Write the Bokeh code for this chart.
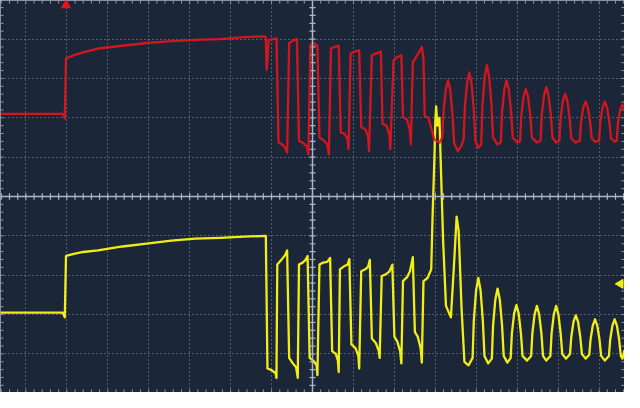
import numpy as np
from bokeh.plotting import figure
from bokeh.models import FixedTicker, Span
from bokeh.embed import file_html
from bokeh.resources import INLINE

# ---- data (screen divisions: time in div, voltage in div) ----
T_MIN, T_MAX = -7.62, 7.62
V_MIN, V_MAX = -4.98, 4.98

red_trigger_t = -6.02
yel_trigger_v = -2.22

# channel 1 (red): baseline, step, settle
red_step_t = [-7.62, -6.10, -6.05, -6.02, -5.83, -5.60, -5.24, -4.64, -4.05, -3.45,
              -2.86, -2.26, -1.67, -1.19, -1.14, -1.12, -1.10, -1.07, -0.95, -0.88]
red_step_v = [2.10, 2.10, 1.98, 3.51, 3.59, 3.66, 3.76, 3.83, 3.90, 3.95,
              3.98, 4.00, 4.05, 4.07, 4.05, 3.22, 3.51, 3.98, 4.00, 4.02]
# square burst
red_burst_t = [-0.83, -0.74, -0.67, -0.62, -0.57, -0.48, -0.38,
               -0.33, -0.24, -0.14, -0.10, -0.05, 0.02, 0.12,
               0.17, 0.26, 0.36, 0.40, 0.45, 0.55, 0.64,
               0.69, 0.79, 0.86, 0.88, 0.93, 1.02, 1.14,
               1.19, 1.29, 1.36, 1.38, 1.45, 1.55, 1.67,
               1.71, 1.81, 1.88, 1.90, 1.98, 2.07, 2.17,
               2.21, 2.31, 2.38, 2.40, 2.45, 2.57, 2.67, 2.71,
               2.74, 2.83, 2.98, 3.10]
red_burst_v = [1.37, 1.32, 1.24, 1.12, 3.90, 3.95, 4.00,
               1.41, 1.37, 1.27, 1.07, 3.85, 3.90, 3.83,
               1.49, 1.44, 1.32, 1.07, 3.76, 3.80, 3.83,
               1.63, 1.59, 1.44, 1.20, 3.63, 3.68, 3.71,
               1.76, 1.71, 1.51, 1.15, 3.59, 3.63, 3.68,
               1.85, 1.80, 1.56, 1.20, 3.46, 3.54, 3.59,
               2.02, 1.95, 1.68, 1.32, 3.41, 3.61, 3.80, 3.51,
               2.05, 2.00, 1.44, 1.37]
# ringing
red_ring_t = [3.17, 3.20, 3.255, 3.31, 3.365, 3.42, 3.46, 3.55, 3.64,
              3.69, 3.72, 3.775, 3.83, 3.885, 3.94, 3.98, 4.05, 4.12,
              4.15, 4.205, 4.26, 4.315, 4.37, 4.41, 4.52, 4.60,
              4.63, 4.685, 4.74, 4.795, 4.85, 4.89, 5.00, 5.07,
              5.10, 5.155, 5.21, 5.265, 5.32, 5.36, 5.48, 5.57,
              5.60, 5.655, 5.71, 5.765, 5.82, 5.86, 5.95, 6.03,
              6.06, 6.115, 6.17, 6.225, 6.28, 6.32, 6.43, 6.53,
              6.56, 6.615, 6.67, 6.725, 6.78, 6.82, 6.90, 7.00,
              7.03, 7.085, 7.14, 7.195, 7.25, 7.29, 7.38, 7.43,
              7.46, 7.515, 7.57, 7.62]
red_ring_v = [1.50, 2.16, 2.72, 2.95, 2.71, 2.05, 1.35, 1.15, 1.30,
              1.45, 2.25, 2.88, 3.15, 2.87, 2.20, 1.40, 1.24, 1.32,
              2.30, 3.04, 3.34, 3.03, 2.35, 1.50, 1.32, 1.38,
              2.15, 2.72, 2.95, 2.72, 2.15, 1.50, 1.37, 1.40,
              2.05, 2.53, 2.73, 2.53, 2.05, 1.50, 1.37, 1.42,
              2.08, 2.57, 2.78, 2.57, 2.08, 1.50, 1.37, 1.42,
              1.99, 2.43, 2.61, 2.43, 1.99, 1.48, 1.37, 1.42,
              1.90, 2.26, 2.41, 2.26, 1.90, 1.48, 1.39, 1.42,
              1.90, 2.26, 2.41, 2.26, 1.90, 1.48, 1.39, 1.42,
              1.88, 2.20, 2.34, 2.20]

# channel 2 (yellow)
yel_step_t = [-7.62, -6.10, -6.05, -6.02, -5.83, -5.60, -5.24, -4.64, -4.05, -3.45,
              -2.86, -2.26, -1.67, -1.14]
yel_step_v = [-2.95, -2.95, -3.07, -1.51, -1.46, -1.41, -1.37, -1.27, -1.20, -1.12,
              -1.07, -1.05, -1.02, -1.00]
yel_burst_t = [-1.10, -1.00, -0.90, -0.88, -0.86, -0.76, -0.67, -0.62,
               -0.57, -0.48, -0.40, -0.36, -0.33, -0.24, -0.17, -0.12,
               -0.07, 0.02, 0.10, 0.12, 0.17, 0.26, 0.36, 0.43,
               0.48, 0.57, 0.62, 0.64, 0.67, 0.76, 0.86, 0.90,
               0.95, 1.05, 1.12, 1.14, 1.19, 1.29, 1.36, 1.40,
               1.45, 1.55, 1.62, 1.64, 1.69, 1.79, 1.88, 1.95,
               2.00, 2.07, 2.14, 2.17, 2.21, 2.31, 2.38, 2.45,
               2.50, 2.57, 2.64, 2.67]
yel_burst_v = [-4.37, -4.41, -4.49, -4.61, -1.73, -1.61, -1.49, -1.37,
               -4.10, -4.24, -4.34, -4.61, -1.73, -1.68, -1.61, -1.51,
               -4.10, -4.17, -4.29, -4.54, -1.73, -1.68, -1.66, -1.56,
               -3.93, -4.00, -4.17, -4.46, -1.85, -1.78, -1.73, -1.59,
               -3.76, -3.85, -4.05, -4.37, -1.90, -1.85, -1.78, -1.61,
               -3.61, -3.73, -3.93, -4.10, -2.02, -1.98, -1.90, -1.73,
               -3.56, -3.68, -3.93, -4.24, -2.15, -2.05, -1.90, -1.54,
               -3.44, -3.56, -3.85, -4.22]
yel_spike_t = [2.71, 2.81, 2.90, 2.93, 2.98, 3.00, 3.02, 3.05, 3.10, 3.14,
               3.19, 3.26, 3.33, 3.38, 3.45, 3.52, 3.57, 3.64, 3.71, 3.81]
yel_spike_v = [-2.15, -2.07, -1.85, -0.60, 1.07, 1.93, 2.29, 1.80, 2.00, 0.59,
               -1.12, -2.78, -2.95, -3.07, -1.85, -0.51, -0.88, -2.83, -4.20, -4.29]
yel_ring_t = [3.91, 3.94, 3.995, 4.05, 4.105, 4.16, 4.20, 4.29, 4.38,
              4.41, 4.465, 4.52, 4.575, 4.63, 4.67, 4.76, 4.84,
              4.87, 4.925, 4.98, 5.035, 5.09, 5.13, 5.24, 5.34,
              5.37, 5.425, 5.48, 5.535, 5.59, 5.63, 5.71, 5.81,
              5.84, 5.895, 5.95, 6.005, 6.06, 6.10, 6.19, 6.29,
              6.32, 6.375, 6.43, 6.485, 6.54, 6.58, 6.67, 6.76,
              6.79, 6.845, 6.90, 6.955, 7.01, 7.05, 7.14, 7.24,
              7.27, 7.325, 7.38, 7.435, 7.49, 7.53, 7.57, 7.62]
yel_ring_v = [-4.10, -3.15, -2.39, -2.07, -2.39, -3.15, -4.05, -4.24, -4.12,
              -3.28, -2.62, -2.34, -2.62, -3.28, -4.05, -4.22, -4.10,
              -3.47, -2.97, -2.76, -2.97, -3.47, -4.05, -4.17, -4.05,
              -3.47, -2.99, -2.78, -2.99, -3.47, -4.05, -4.17, -4.05,
              -3.47, -2.99, -2.78, -2.99, -3.47, -4.00, -4.12, -4.00,
              -3.57, -3.18, -3.02, -3.18, -3.57, -4.00, -4.12, -4.02,
              -3.64, -3.28, -3.12, -3.28, -3.64, -4.05, -4.17, -4.05,
              -3.64, -3.28, -3.12, -3.28, -3.64, -4.05, -4.12, -3.90]

red_t = red_step_t + red_burst_t + red_ring_t
red_v = red_step_v + red_burst_v + red_ring_v
yel_t = yel_step_t + yel_burst_t + yel_spike_t + yel_ring_t
yel_v = yel_step_v + yel_burst_v + yel_spike_v + yel_ring_v

# ---- styles ----
BG = "#1b2639"
GRID = "#8b97ab"
AXC = "#aab6c8"
RED = "#e8141c"
YEL = "#f2ee14"

p = figure(width=624, height=392, x_range=(T_MIN, T_MAX), y_range=(V_MIN, V_MAX),
           output_backend="svg", toolbar_location=None, min_border=0,
           x_axis_location=None, y_axis_location=None,
           background_fill_color=BG, border_fill_color=BG, outline_line_color=None)

p.xgrid.ticker = FixedTicker(ticks=[i for i in range(-7, 8) if i != 0])
p.ygrid.ticker = FixedTicker(ticks=[i for i in range(-4, 5) if i != 0])
p.grid.grid_line_color = GRID
p.grid.grid_line_dash = "1 3"
p.grid.grid_line_width = 1

p.add_layout(Span(location=0, dimension="height", line_color=AXC, line_width=1.5))
p.add_layout(Span(location=0, dimension="width", line_color=AXC, line_width=1.5))

tk = np.round(np.arange(-7.6, 7.61, 0.2), 2)
vk = np.round(np.arange(-4.8, 4.81, 0.2), 2)
dv, dt = 0.08, 0.075
p.segment(x0=tk, y0=-dv, x1=tk, y1=dv, line_color=AXC, line_width=1.2)
p.segment(x0=-dt, y0=vk, x1=dt, y1=vk, line_color=AXC, line_width=1.2)
p.segment(x0=tk, y0=V_MAX, x1=tk, y1=V_MAX - dv, line_color=GRID, line_width=1)
p.segment(x0=tk, y0=V_MIN, x1=tk, y1=V_MIN + dv, line_color=GRID, line_width=1)
p.segment(x0=T_MIN, y0=vk, x1=T_MIN + dt, y1=vk, line_color=GRID, line_width=1)
p.segment(x0=T_MAX, y0=vk, x1=T_MAX - dt, y1=vk, line_color=GRID, line_width=1)

p.line(yel_t, yel_v, line_color=YEL, line_width=2.3, line_join="round")
p.line(red_t, red_v, line_color=RED, line_width=2.3, line_join="round", line_alpha=0.9)

p.scatter(x=[red_trigger_t], y=[V_MAX - 0.12], marker="triangle", size=9,
          fill_color=RED, line_color=RED)
p.scatter(x=[T_MAX - 0.1], y=[yel_trigger_v], marker="triangle", size=9, angle=np.pi / 2,
          fill_color=YEL, line_color=YEL)

open("out.html", "w").write(file_html(p, INLINE))
